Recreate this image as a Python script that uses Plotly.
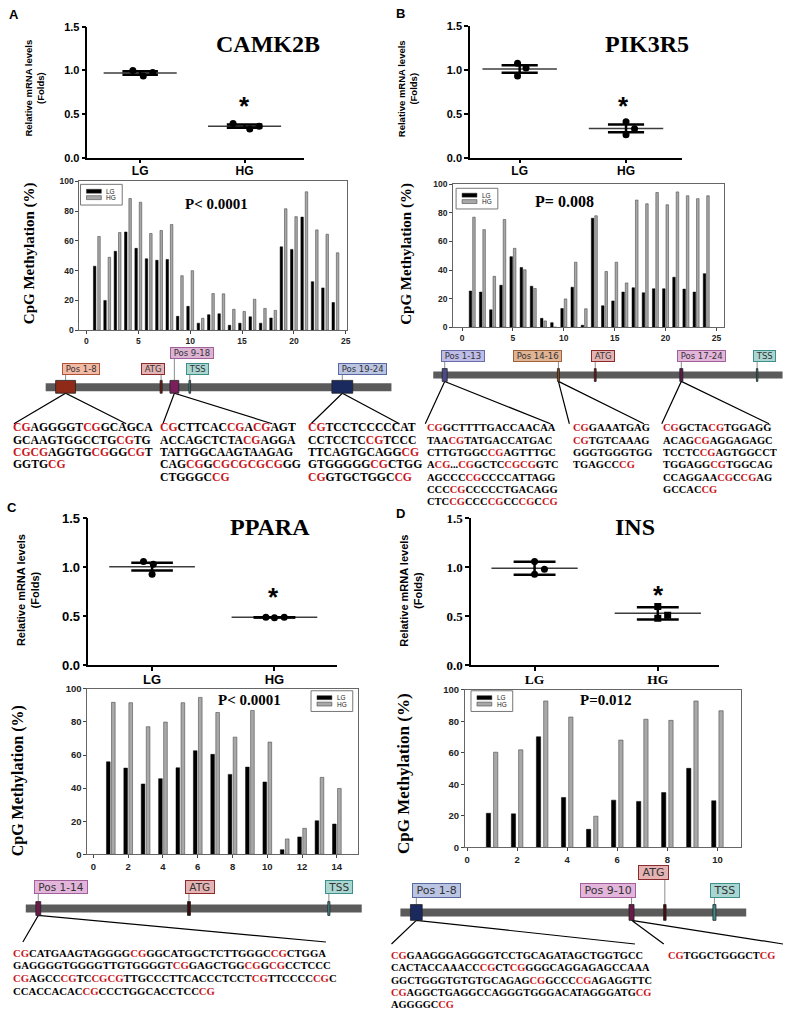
import re

import numpy as np
import plotly.graph_objects as go

W, H = 787, 1018
SANS = "Liberation Sans"
SERIF = "Liberation Serif"
TAG_FONT = "DejaVu Sans"
CG_RED = "#c8161d"
NBSP = "\u00a0"

GROUPS = ["LG", "HG"]

# relative mRNA levels, three replicates per group
CAMK2B_MRNA_LG = [1.00, 0.935, 0.975]
CAMK2B_MRNA_HG = [0.393, 0.33, 0.36]
PIK3R5_MRNA_LG = [1.075, 0.93, 1.02]
PIK3R5_MRNA_HG = [0.41, 0.26, 0.33]
PPARA_MRNA_LG = [1.06, 0.93, 1.03]
PPARA_MRNA_HG = [0.49, 0.485, 0.49]
INS_MRNA_LG = [1.06, 0.93, 0.98]
INS_MRNA_HG = [0.60, 0.48, 0.51]

# CpG methylation (%) for each CpG position
CAMK2B_METH_LG = [43, 20, 53, 66, 55, 48, 47, 47.5, 9.3, 16, 4.7, 10.4,
                  11, 3.3, 4.7, 9, 4.7, 8.2, 56, 54.3, 76, 32.6, 28.4, 18.6]
CAMK2B_METH_HG = [63, 49, 65.6, 88.5, 86, 65, 67, 71, 36.6, 40, 8, 24.6,
                  24.4, 14, 12.6, 20.8, 14.6, 13.3, 81.6, 76.3, 93, 67.4, 64.5, 52]
PIK3R5_METH_LG = [25.3, 24.6, 12.2, 29.4, 49.4, 41.8, 28.7, 6.2, 3.2, 13.1, 28, 1.4,
                  76.3, 15, 18.4, 24.6, 27.6, 24.1, 26.9, 26.9, 35, 26.7, 24.6, 37.5]
PIK3R5_METH_HG = [77, 68.3, 35.6, 75.4, 55.2, 40.2, 27.1, 4.4, 0, 19.8, 45.5, 12.9,
                  78, 39, 45.5, 31, 89, 86.4, 94.3, 85.7, 94.7, 92, 90, 92]
PPARA_METH_LG = [55.9, 52.1, 42.5, 45.7, 52.3, 62.6, 60.4, 48.3, 52.7, 43.7, 2.8, 10.5, 20.3, 18.3]
PPARA_METH_HG = [91.8, 91.6, 77.1, 79.9, 91.6, 94.8, 85.7, 70.8, 86.9, 67.8, 9.3, 15.7, 46.5, 39.8]
INS_METH_LG = [21.7, 21.3, 70.2, 31.7, 11.5, 30, 29.2, 34.8, 50.2, 29.6]
INS_METH_HG = [60.4, 61.9, 92.9, 82.7, 19.8, 68.1, 81.3, 80.6, 92.9, 86.7]

# gene maps, in the same units as the CpG position axis
CAMK2B_SPAN = [-3.93, 29.4]
CAMK2B_FEATURES = ["Pos 1-8", "ATG", "Pos 9-18", "TSS", "Pos 19-24"]
CAMK2B_FEAT_START = [-2.97, 7.1, 8.05, 9.88, 23.66]
CAMK2B_FEAT_END = [-1.05, 7.3, 8.9, 10.04, 25.67]
PIK3R5_SPAN = [-2.83, 31.5]
PIK3R5_FEATURES = ["Pos 1-13", "Pos 14-16", "ATG", "Pos 17-24", "TSS"]
PIK3R5_FEAT_START = [-1.95, 9.37, 13.0, 21.4, 28.93]
PIK3R5_FEAT_END = [-1.46, 9.57, 13.18, 21.7, 29.07]
PPARA_SPAN = [-3.89, 15.43]
PPARA_FEATURES = ["Pos 1-14", "ATG", "TSS"]
PPARA_FEAT_START = [-3.31, 5.41, 13.48]
PPARA_FEAT_END = [-3.03, 5.58, 13.6]
INS_SPAN = [-2.66, 11.15]
INS_FEATURES = ["Pos 1-8", "Pos 9-10", "ATG", "TSS"]
INS_FEAT_START = [-2.26, 6.47, 7.85, 9.82]
INS_FEAT_END = [-1.79, 6.67, 7.95, 9.94]

# sequenced regions (CG sites are shown in red)
CAMK2B_SEQS = [
    ["CGAGGGGTCGGCAGCA", "GCAAGTGGCCTGCGTG", "CGCGAGGTGCGGGCGT", "GGTGCG"],
    ["CGCTTCACCGACGAGT", "ACCAGCTCTACGAGGA", "TATTGGCAAGTAAGAG", "CAGCGGCGCGCGCGGG", "CTGGGCCG"],
    ["CGTCCTCCCCCAT", "CCTCCTCCGTCCC", "TTCAGTGCAGGCG", "GTGGGGGCGCTGG", "CGGTGCTGGCCG"],
]
CAMK2B_SEQ_FEATURE = [0, 2, 4]
PIK3R5_SEQS = [
    ["CGGCTTTTGACCAACAA", "TAACGTATGACCATGAC", "CTTGTGGCCGAGTTTGC", "ACG...CGGCTCCGCGGTC",
     "AGCCCCGCCCCATTAGG", "CCCCGCCCCCTGACAGG", "CTCCGCCCCGCCCGCCG"],
    ["CGGAAATGAG", "CGTGTCAAAG", "GGGTGGGTGG", "TGAGCCCG"],
    ["CGGCTACGTGGAGG", "ACAGCGAGGAGAGC", "TCCTCCGAGTGGCCT", "TGGAGGCGTGGCAG", "CCAGGAACGCCGAG", "GCCACCG"],
]
PIK3R5_SEQ_FEATURE = [0, 1, 3]
PPARA_SEQS = [
    ["CGCATGAAGTAGGGGCGGGCATGGCTCTTGGGCCGCTGGA", "GAGGGGTGGGGTTGTGGGGTCGGAGCTGGCGGCGCCTCCC",
     "CGAGCCCGTCCGCGTTGCCCTTCACCCTCCTCGTTCCCCCGC", "CCACCACACCGCCCTGGCACCTCCCG"],
]
PPARA_SEQ_FEATURE = [0]
INS_SEQS = [
    ["CGGAAGGGAGGGGTCCTGCAGATAGCTGGTGCC", "CACTACCAAACCCGCTCGGGGCAGGAGAGCCAAA",
     "GGCTGGGTGTGTGCAGAGCGGCCCCGAGAGGTTC", "CGAGGCTGAGGCCAGGGTGGGACATAGGGATGCG", "AGGGGCCG"],
    ["CGTGGCTGGGCTCG"],
]
INS_SEQ_FEATURE = [0, 1]

TEAL, TEAL_TAG = "#3e8e8c", "#a9d6d1"
ATG_TAG, ATG_LINE = "#e5b3b3", "#8b2a2a"

PANELS = [
    dict(letter="A", gene="CAMK2B", pval="P< 0.0001", err="sem",
         mrna=(CAMK2B_MRNA_LG, CAMK2B_MRNA_HG), meth=(CAMK2B_METH_LG, CAMK2B_METH_HG),
         span=CAMK2B_SPAN, feats=CAMK2B_FEATURES, start=CAMK2B_FEAT_START, end=CAMK2B_FEAT_END,
         seqs=CAMK2B_SEQS, seq_feat=CAMK2B_SEQ_FEATURE,
         style=dict(letter_at=(6, 10), dot_x=(87, 305), dot_y=(20, 153), dot_range=(0.495, 2.57),
                    dot_font=SANS, dot_tick=11, cat_tick=12, hg_symbol="circle",
                    jitter=([-0.07, 0.03, 0.12], [-0.11, 0.05, 0.14]),
                    title_at=(269, 42.5), star_at=(245, 100), mrna_at=(34, 82), mrna_size=9.5,
                    bar_x=(79, 348), bar_y=(177, 328), unit0=86, unit_px=10.44, dtick=5, bar_tick=8.5,
                    bar_w=0.24, bar_sep=0.42, pval_at=(217, 203), pval_size=15, legend_at=(80, 180),
                    cpg_at=(28, 250), cpg_size=15, diag_x=(0, 405), diag_y=(340, 432),
                    gene_y=386, gene_h=8, feat_y=(379, 392),
                    tag_y=[367, 367, 351, 367, 367], tag_side="lrlll", tag_size=8.5,
                    feat_fill=["#8e2a17", "#7a1414", "#7a1f5c", TEAL, "#1b2a5e"],
                    tag_fill=["#f2b9a3", ATG_TAG, "#ddb3d3", TEAL_TAG, "#bac4e3"],
                    tag_line=["#b0533b", ATG_LINE, "#a0609a", TEAL, "#5a6aa0"],
                    seq_x=[10, 158, 307], seq_y=428.5, seq_dy=12.5, seq_size=11.7,
                    fan_px=[(13, 126), (163, 273), (312, 401)], fan_y=(392, 423))),
    dict(letter="B", gene="PIK3R5", pval="P= 0.008", err="sem",
         mrna=(PIK3R5_MRNA_LG, PIK3R5_MRNA_HG), meth=(PIK3R5_METH_LG, PIK3R5_METH_HG),
         span=PIK3R5_SPAN, feats=PIK3R5_FEATURES, start=PIK3R5_FEAT_START, end=PIK3R5_FEAT_END,
         seqs=PIK3R5_SEQS, seq_feat=PIK3R5_SEQ_FEATURE,
         style=dict(letter_at=(396, 9), dot_x=(472, 685), dot_y=(19, 153), dot_range=(0.533, 2.523),
                    dot_font=SANS, dot_tick=11, cat_tick=12, hg_symbol="circle",
                    jitter=([-0.02, -0.02, 0.06], [0, 0, 0.08]),
                    title_at=(650, 42.5), star_at=(626, 100), mrna_at=(409, 83), mrna_size=9.5,
                    bar_x=(455, 728), bar_y=(180, 325), unit0=464, unit_px=10.24, dtick=5, bar_tick=8.5,
                    bar_w=0.25, bar_sep=0.34, pval_at=(567, 201), pval_size=16, legend_at=(458, 184),
                    cpg_at=(408, 250), cpg_size=15, diag_x=(393, 787), diag_y=(340, 432),
                    gene_y=373.5, gene_h=7, feat_y=(367, 380),
                    tag_y=[354] * 5, tag_side="lrlll", tag_size=8.5,
                    feat_fill=["#4b4b8c", "#8b4a1a", "#7a1414", "#5a1a4a", TEAL],
                    tag_fill=["#bdbde8", "#e0b393", ATG_TAG, "#e3b5db", TEAL_TAG],
                    tag_line=["#6a6aaa", "#a0603a", ATG_LINE, "#a0609a", TEAL],
                    seq_x=[427, 574, 664], seq_y=428.5, seq_dy=12.5, seq_size=10.5,
                    fan_px=[(427, 553), (572, 647), (665, 773)], fan_y=(380, 423))),
    dict(letter="C", gene="PPARA", pval="P< 0.0001", err="sem",
         mrna=(PPARA_MRNA_LG, PPARA_MRNA_HG), meth=(PPARA_METH_LG, PPARA_METH_HG),
         span=PPARA_SPAN, feats=PPARA_FEATURES, start=PPARA_FEAT_START, end=PPARA_FEAT_END,
         seqs=PPARA_SEQS, seq_feat=PPARA_SEQ_FEATURE,
         style=dict(letter_at=(4, 511), dot_x=(88, 338), dot_y=(519, 668), dot_range=(0.48, 2.51),
                    dot_font=SANS, dot_tick=13, cat_tick=13, hg_symbol="circle",
                    jitter=([-0.07, 0.0, 0.01], [-0.07, 0, 0.08]),
                    title_at=(271, 533), star_at=(274, 599), mrna_at=(27, 592), mrna_size=11,
                    bar_x=(87, 359), bar_y=(692, 860), unit0=93, unit_px=17.5, dtick=2, bar_tick=9.5,
                    bar_w=0.21, bar_sep=0.29, pval_at=(250, 707), pval_size=15, legend_at=(312, 694),
                    cpg_at=(18, 785), cpg_size=16, diag_x=(0, 393), diag_y=(878, 955),
                    gene_y=915, gene_h=8, feat_y=(908, 922),
                    tag_y=[893] * 3, tag_side="lll", tag_size=10.5,
                    feat_fill=["#6a1a4a", "#3a0a0a", TEAL],
                    tag_fill=["#e3b5db", ATG_TAG, TEAL_TAG],
                    tag_line=["#a0609a", ATG_LINE, TEAL],
                    seq_x=[10], seq_y=961, seq_dy=13, seq_size=10.7,
                    fan_px=[(22, 327)], fan_y=(922, 949))),
    dict(letter="D", gene="INS", pval="P=0.012", err="sd",
         mrna=(INS_MRNA_LG, INS_MRNA_HG), meth=(INS_METH_LG, INS_METH_HG),
         span=INS_SPAN, feats=INS_FEATURES, start=INS_FEAT_START, end=INS_FEAT_END,
         seqs=INS_SEQS, seq_feat=INS_SEQ_FEATURE,
         style=dict(letter_at=(396, 517), dot_x=(473, 723), dot_y=(519, 668), dot_range=(0.484, 2.5),
                    dot_font=SERIF, dot_tick=13, cat_tick=13.5, hg_symbol="square",
                    jitter=([0, 0, 0.08], [0, 0, 0.08]),
                    title_at=(638, 533), star_at=(662, 597), mrna_at=(413, 592), mrna_size=11,
                    bar_x=(467, 745), bar_y=(693, 853), unit0=469, unit_px=25.2, dtick=2, bar_tick=9.5,
                    bar_w=0.17, bar_sep=0.29, pval_at=(608, 707), pval_size=15, legend_at=(473, 694),
                    cpg_at=(405, 778), cpg_size=17, diag_x=(388, 787), diag_y=(865, 955),
                    gene_y=919, gene_h=8, feat_y=(911, 927),
                    tag_y=[897, 897, 878, 897], tag_side="lrrl", tag_size=11,
                    feat_fill=["#1b2a5e", "#6a1a4a", "#4a0a0a", TEAL],
                    tag_fill=["#bac4e3", "#e3b5db", ATG_TAG, TEAL_TAG],
                    tag_line=["#5a6aa0", "#a0609a", ATG_LINE, TEAL],
                    seq_x=[390, 669], seq_y=964, seq_dy=12.5, seq_size=10.4,
                    fan_px=[(393, 638), (667, 787)], fan_y=(927, 951))),
]


def colour_cpg(seq):
    return re.sub("CG", f'<span style="color:{CG_RED}">CG</span>', seq)


def axis_ids(i):
    s = "" if i == 1 else str(i)
    return "xaxis" + s, "yaxis" + s, "x" + s, "y" + s


def dom_x(a, b):
    return [a / W, b / W]


def dom_y(top, bottom):
    return [1 - bottom / H, 1 - top / H]


def note(text, at, size, family=SANS, lift=0.22, **kw):
    # lift: capital letters sit a little below the middle of the text box
    d = dict(text=text, x=at[0] / W, y=1 - (at[1] - lift * size) / H, xref="paper", yref="paper",
             showarrow=False, xanchor="center", yanchor="middle",
             font=dict(family=family, size=size, color="black", weight="bold"))
    d.update(kw)
    return d


fig = go.Figure()
axes = {}
notes = []
shapes = []

for n, p in enumerate(PANELS):
    s = p["style"]
    dot, bar, dia = (axis_ids(3 * n + k) for k in (1, 2, 3))

    # ---- mRNA scatter dot plot (mean line with SEM / SD bars)
    xa, ya, xr, yr = dot
    for gi, vals in enumerate(p["mrna"]):
        pos = gi + 1
        v = np.asarray(vals)
        m = v.mean()
        e = v.std(ddof=1)
        if p["err"] == "sem":
            e /= np.sqrt(len(v))
        fig.add_trace(go.Scatter(x=[pos - 0.35, pos + 0.35], y=[m, m], mode="lines",
                                 line=dict(color="#3c3c3c", width=1.5), xaxis=xr, yaxis=yr))
        fig.add_trace(go.Scatter(
            x=[pos - 0.17, pos + 0.17, None, pos - 0.17, pos + 0.17, None, pos, pos],
            y=[m + e, m + e, None, m - e, m - e, None, m - e, m + e],
            mode="lines", line=dict(color="black", width=2.5), xaxis=xr, yaxis=yr))
        sym = s["hg_symbol"] if gi == 1 else "circle"
        fig.add_trace(go.Scatter(x=pos + np.asarray(s["jitter"][gi]), y=v, mode="markers",
                                 marker=dict(symbol=sym, size=7, color="black"),
                                 xaxis=xr, yaxis=yr))
    dot_common = dict(showline=True, linecolor="black", linewidth=1.5, ticks="outside",
                      ticklen=4, tickwidth=1.5, tickcolor="black", showgrid=False,
                      zeroline=False, fixedrange=True)
    axes[xa] = dict(domain=dom_x(*s["dot_x"]), range=list(s["dot_range"]), anchor=yr,
                    tickvals=[1, 2], ticktext=GROUPS, ticklabelstandoff=-3,
                    tickfont=dict(family=s["dot_font"], size=s["cat_tick"], color="black", weight="bold"),
                    **dot_common)
    axes[ya] = dict(domain=dom_y(*s["dot_y"]), range=[0, 1.5], anchor=xr,
                    tickvals=[0, 0.5, 1.0, 1.5], tickformat=".1f",
                    tickfont=dict(family=s["dot_font"], size=s["dot_tick"], color="black", weight="bold"),
                    **dot_common)
    notes.append(note(p["gene"], s["title_at"], 24, SERIF))
    notes.append(note("*", s["star_at"], 26, lift=0))
    notes.append(note("Relative mRNA levels<br>(Folds)", s["mrna_at"], s["mrna_size"],
                      lift=0, textangle=-90))
    notes.append(note(p["letter"], s["letter_at"], 13, xanchor="left"))

    # ---- CpG methylation bar chart
    xa, ya, xr, yr = bar
    lg, hg = p["meth"]
    cats = np.arange(1, len(lg) + 1)
    w, sep = s["bar_w"], s["bar_sep"]
    fig.add_trace(go.Bar(x=cats, y=lg, width=w, offset=-sep / 2 - w / 2,
                         marker=dict(color="black", line=dict(color="black", width=0.5)),
                         xaxis=xr, yaxis=yr))
    fig.add_trace(go.Bar(x=cats, y=hg, width=w, offset=sep / 2 - w / 2,
                         marker=dict(color="#a8a8a8", line=dict(color="#4d4d4d", width=0.6)),
                         xaxis=xr, yaxis=yr))
    u0, k = s["unit0"], s["unit_px"]
    bar_common = dict(showline=True, mirror=True, linecolor="#666", linewidth=1, ticks="outside",
                      ticklen=3, tickcolor="#444", showgrid=False, zeroline=False, fixedrange=True,
                      tickfont=dict(family=SANS, size=s["bar_tick"], color="#222", weight="bold"))
    axes[xa] = dict(domain=dom_x(*s["bar_x"]), anchor=yr,
                    range=[(s["bar_x"][0] - u0) / k, (s["bar_x"][1] - u0) / k],
                    tick0=0, dtick=s["dtick"], **bar_common)
    axes[ya] = dict(domain=dom_y(*s["bar_y"]), anchor=xr, range=[0, 100], tick0=0, dtick=20,
                    **bar_common)
    notes.append(note(p["pval"], s["pval_at"], s["pval_size"], SERIF))
    notes.append(note("CpG Methylation (%)", s["cpg_at"], s["cpg_size"], SERIF,
                      lift=0, textangle=-90))

    # legend box
    lx, ly = s["legend_at"]
    shapes.append(dict(type="rect", xref="paper", yref="paper", x0=lx / W, x1=(lx + 42) / W,
                       y0=1 - ly / H, y1=1 - (ly + 21) / H, line=dict(color="#777", width=1),
                       fillcolor="white"))
    for r, (name, fill) in enumerate(zip(GROUPS, ["black", "#a8a8a8"])):
        yy = ly + 5 + r * 6.5
        shapes.append(dict(type="rect", xref="paper", yref="paper", x0=(lx + 6) / W, x1=(lx + 21) / W,
                           y0=1 - yy / H, y1=1 - (yy + 4) / H, fillcolor=fill,
                           line=dict(color="#333", width=0.5)))
        notes.append(note(name, (lx + 24, yy + 2), 6.5, lift=0, xanchor="left",
                          font=dict(family=SANS, size=6.5, color="#222")))

    # ---- gene map
    xa, ya, xr, yr = dia
    dx, dy = s["diag_x"], s["diag_y"]
    axes[xa] = dict(domain=dom_x(*dx), range=[(dx[0] - u0) / k, (dx[1] - u0) / k], anchor=yr,
                    visible=False, fixedrange=True)
    axes[ya] = dict(domain=dom_y(*dy), range=[dy[1], dy[0]], anchor=xr,
                    visible=False, fixedrange=True)
    gy, gh = s["gene_y"], s["gene_h"]
    shapes.append(dict(type="rect", xref=xr, yref=yr, x0=p["span"][0], x1=p["span"][1],
                       y0=gy - gh / 2, y1=gy + gh / 2, fillcolor="#5b5b5b", line=dict(width=0),
                       layer="below"))
    centres = [(a + b) / 2 for a, b in zip(p["start"], p["end"])]
    half_tag = s["tag_size"] * 0.6
    stem_x, stem_y = [], []
    for fi, name in enumerate(p["feats"]):
        shapes.append(dict(type="rect", xref=xr, yref=yr, x0=p["start"][fi], x1=p["end"][fi],
                           y0=s["feat_y"][0], y1=s["feat_y"][1], fillcolor=s["feat_fill"][fi],
                           line=dict(color="#222", width=0.8)))
        stem_x += [centres[fi], centres[fi], None]
        stem_y += [s["tag_y"][fi] + half_tag, s["feat_y"][0], None]
        left = s["tag_side"][fi] == "l"
        notes.append(dict(text=NBSP + name + NBSP, x=centres[fi], y=s["tag_y"][fi], xref=xr, yref=yr,
                          showarrow=False, xanchor="left" if left else "right", yanchor="middle",
                          xshift=-4 if left else 4,
                          font=dict(family=TAG_FONT, size=s["tag_size"], color="#333"),
                          bgcolor=s["tag_fill"][fi], bordercolor=s["tag_line"][fi],
                          borderwidth=1, borderpad=0))
    fig.add_trace(go.Scatter(x=stem_x, y=stem_y, mode="lines", line=dict(color="#8c8c8c", width=1),
                             xaxis=xr, yaxis=yr))
    fan_x, fan_y = [], []
    for si, fi in enumerate(p["seq_feat"]):
        a, b = s["fan_px"][si]
        fan_x += [(a - u0) / k, centres[fi], (b - u0) / k, None]
        fan_y += [s["fan_y"][1], s["fan_y"][0], s["fan_y"][1], None]
    fig.add_trace(go.Scatter(x=fan_x, y=fan_y, mode="lines", line=dict(color="black", width=1.2),
                             xaxis=xr, yaxis=yr))

    # ---- sequences
    for si, lines in enumerate(p["seqs"]):
        for li, line in enumerate(lines):
            notes.append(note(colour_cpg(line), (s["seq_x"][si], s["seq_y"] + li * s["seq_dy"]),
                              s["seq_size"], SERIF, lift=0.12, xanchor="left"))

fig.update_layout(
    width=W, height=H, margin=dict(l=0, r=0, t=0, b=0),
    paper_bgcolor="white", plot_bgcolor="rgba(0,0,0,0)",
    showlegend=False, hovermode=False, barmode="overlay",
    annotations=notes, shapes=shapes, **axes,
)

fig.write_html("out.html", config={"displayModeBar": False},
               post_script="document.body.style.margin='0';")
